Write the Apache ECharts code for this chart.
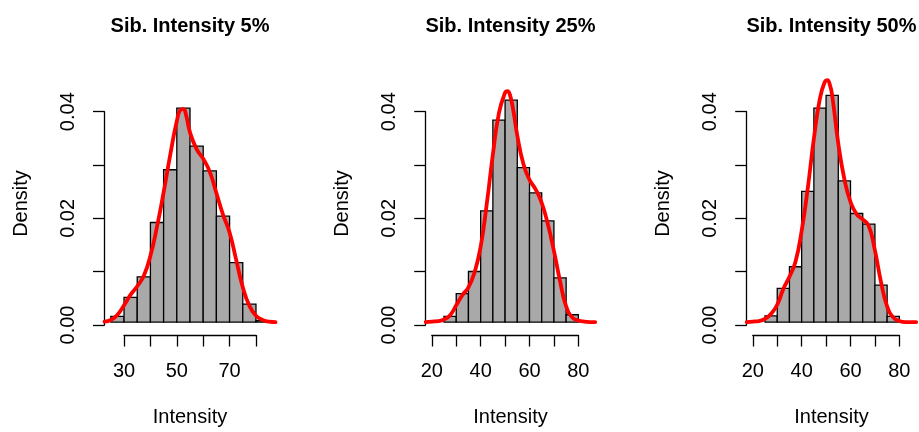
<!DOCTYPE html>
<html>
<head>
<meta charset="utf-8">
<script src="https://cdn.jsdelivr.net/npm/echarts@6/dist/echarts.min.js"></script>
<style>
  html, body { margin: 0; padding: 0; background: #fff; }
  #chart { width: 919px; height: 432px; }
</style>
</head>
<body>
<div id="chart"></div>
<script>
// Panel titles
const titles = ['Sib. Intensity 5%', 'Sib. Intensity 25%', 'Sib. Intensity 50%'];
const xName = 'Intensity';
const yName = 'Density';
const binWidth = 5;

// Histogram bins (left edges) and densities
const bins5 = [25, 30, 35, 40, 45, 50, 55, 60, 65, 70, 75, 80];
const dens5 = [0.0011, 0.0047, 0.0086, 0.0189, 0.0289, 0.0406, 0.0334, 0.0287, 0.0201, 0.0113, 0.0034, 0.0003];
const bins25 = [25, 30, 35, 40, 45, 50, 55, 60, 65, 70, 75];
const dens25 = [0.0011, 0.0054, 0.0096, 0.0211, 0.0383, 0.0421, 0.0293, 0.0245, 0.0192, 0.0084, 0.0014];
const bins50 = [25, 30, 35, 40, 45, 50, 55, 60, 65, 70, 75];
const dens50 = [0.0012, 0.0064, 0.0105, 0.0248, 0.0406, 0.0430, 0.0268, 0.0206, 0.0186, 0.0070, 0.0011];

// Kernel density curves
const kdeX5 = [22.6, 25, 27.5, 30, 32.5, 35, 37.5, 40, 42.5, 45, 47.5, 50, 51.5, 52.5, 53.5, 55, 57.5, 60, 62.5, 65, 67.5, 70, 72.5, 75, 77.5, 80, 82.5, 85, 87.4];
const kdeY5 = [0.0001, 0.0004, 0.0014, 0.0032, 0.0052, 0.0068, 0.0088, 0.0126, 0.0181, 0.0246, 0.0317, 0.0381, 0.0403, 0.0404, 0.0393, 0.0360, 0.0328, 0.0310, 0.0285, 0.0245, 0.0204, 0.0170, 0.0118, 0.0066, 0.0031, 0.0012, 0.0004, 0.0001, 0];
const kdeX25 = [17.5, 20, 22.5, 25, 27.5, 30, 32.5, 35, 37.5, 40, 42.5, 45, 47.5, 50, 51, 52, 53.5, 55, 57.5, 60, 62.5, 65, 67.5, 70, 72.5, 75, 77.5, 80, 82.5, 86.9];
const kdeY25 = [0, 0.0001, 0.0002, 0.0005, 0.0013, 0.0032, 0.0051, 0.0066, 0.0094, 0.0143, 0.0224, 0.0318, 0.0397, 0.0435, 0.0438, 0.0431, 0.0398, 0.0354, 0.0300, 0.0270, 0.0252, 0.0226, 0.0186, 0.0135, 0.0078, 0.0030, 0.0009, 0.0003, 0.0001, 0];
const kdeX50 = [17.5, 20, 22.5, 25, 27.5, 30, 32.5, 35, 37.5, 40, 42.5, 45, 47.5, 49.5, 50.5, 51.5, 52.5, 55, 57.5, 60, 62.5, 65, 67.5, 70, 72.5, 75, 77.5, 80, 82.5, 86.9];
const kdeY50 = [0, 0.0001, 0.0002, 0.0006, 0.0016, 0.0033, 0.0063, 0.0086, 0.0115, 0.0173, 0.0254, 0.0348, 0.0425, 0.0456, 0.0459, 0.0451, 0.0430, 0.0339, 0.0271, 0.0228, 0.0205, 0.0195, 0.0182, 0.0136, 0.0076, 0.0030, 0.0009, 0.0002, 0, 0];

// Axis tick ranges
const xTicks5 = [30, 80];
const xTicks25 = [20, 80];
const xTicks50 = [20, 80];

const panels = [
  { bins: bins5, dens: dens5, kx: kdeX5, ky: kdeY5, ticks: xTicks5, step: 20 },
  { bins: bins25, dens: dens25, kx: kdeX25, ky: kdeY25, ticks: xTicks25, step: 20 },
  { bins: bins50, dens: dens50, kx: kdeX50, ky: kdeY50, ticks: xTicks50, step: 20 }
];

// Layout of each plot region (pixels) and its data range
const layout = [
  { left: 104.5, width: 171.0, xmin: 22.6, xmax: 87.4 },
  { left: 425.7, width: 169.5, xmin: 17.5, xmax: 86.9 },
  { left: 746.7, width: 169.5, xmin: 17.5, xmax: 86.9 }
];
const plotTop = 75, plotBottom = 335;
const yMin = -0.001875, yMax = 0.046875;
const y0px = 325, y4px = 111.7;

const FONT = '"Liberation Sans", Arial, Helvetica, sans-serif';
const black = '#000';
const axisLine = { show: true, lineStyle: { color: black, width: 1.3 } };
const axisTick = { show: true, inside: false, length: 11.5, lineStyle: { color: black, width: 1.3 } };

const grids = [], xAxes = [], yAxes = [], series = [], title = [];

panels.forEach((p, i) => {
  const L = layout[i];
  const toPx = v => L.left + (v - L.xmin) / (L.xmax - L.xmin) * L.width;

  // data grid (plot region)
  const gData = grids.length;
  grids.push({ left: L.left, top: plotTop, width: L.width, height: plotBottom - plotTop });
  xAxes.push({
    gridIndex: gData, type: 'value', min: L.xmin, max: L.xmax, position: 'bottom',
    axisLine: { show: false }, axisTick: { show: false }, axisLabel: { show: false }, splitLine: { show: false },
    name: xName, nameLocation: 'middle', nameGap: 75,
    nameTextStyle: { color: black, fontSize: 20, fontFamily: FONT }
  });
  yAxes.push({
    gridIndex: gData, type: 'value', min: yMin, max: yMax, position: 'left',
    axisLine: { show: false }, axisTick: { show: false }, axisLabel: { show: false }, splitLine: { show: false },
    name: yName, nameLocation: 'middle', nameGap: 73, nameRotate: 90,
    nameTextStyle: { color: black, fontSize: 20, fontFamily: FONT }
  });
  const xiData = xAxes.length - 1, yiData = yAxes.length - 1;

  // y axis grid (0 .. 0.04)
  const gY = grids.length;
  grids.push({ left: L.left, top: y4px, width: L.width, height: y0px - y4px });
  xAxes.push({ gridIndex: gY, type: 'value', show: false, min: 0, max: 1 });
  yAxes.push({
    gridIndex: gY, type: 'value', min: 0, max: 0.04, interval: 0.01, position: 'left',
    axisLine, axisTick, splitLine: { show: false },
    axisLabel: {
      color: black, fontSize: 20, fontFamily: FONT, rotate: 90, margin: 26,
      formatter: v => (Math.round(v * 100) % 2 === 0 ? v.toFixed(2) : '')
    }
  });

  // x axis grid (first to last tick)
  const gX = grids.length;
  const a = toPx(p.ticks[0]), b = toPx(p.ticks[1]);
  grids.push({ left: a, top: plotBottom - 5, width: b - a, height: 5 });
  xAxes.push({
    gridIndex: gX, type: 'value', min: p.ticks[0], max: p.ticks[1], interval: 10, position: 'bottom',
    axisLine, axisTick, splitLine: { show: false },
    axisLabel: {
      color: black, fontSize: 20, fontFamily: FONT, margin: 26,
      formatter: v => ((v - p.ticks[0]) % p.step === 0 ? String(v) : '')
    }
  });
  yAxes.push({ gridIndex: gX, type: 'value', show: false, min: 0, max: 1 });

  // histogram bars
  series.push({
    type: 'custom',
    xAxisIndex: xiData, yAxisIndex: yiData,
    clip: false,
    data: p.bins.map((s, k) => [s, s + binWidth, p.dens[k]]),
    renderItem: (params, api) => {
      const p0 = api.coord([api.value(0), api.value(2)]);
      const p1 = api.coord([api.value(1), 0]);
      return {
        type: 'rect',
        shape: { x: p0[0], y: p0[1], width: p1[0] - p0[0], height: p1[1] - p0[1] },
        style: { fill: '#A9A9A9', stroke: black, lineWidth: 1.3 }
      };
    },
    z: 2
  });

  // density curve
  series.push({
    type: 'line',
    xAxisIndex: xiData, yAxisIndex: yiData,
    data: p.kx.map((x, k) => [x, p.ky[k]]),
    showSymbol: false, symbol: 'none',
    smooth: 0.5,
    clip: false,
    lineStyle: { color: '#FF0000', width: 3.8, join: 'round', cap: 'round' },
    z: 3
  });

  title.push({
    text: titles[i],
    left: L.left + L.width / 2, top: 16, textAlign: 'center', padding: 0,
    textStyle: { color: black, fontSize: 20, fontWeight: 'bold', fontFamily: FONT }
  });
});

const chart = echarts.init(document.getElementById('chart'), null, { renderer: 'canvas' });
chart.setOption({
  backgroundColor: '#fff',
  animation: false,
  title,
  grid: grids,
  xAxis: xAxes,
  yAxis: yAxes,
  series
});
</script>
</body>
</html>
